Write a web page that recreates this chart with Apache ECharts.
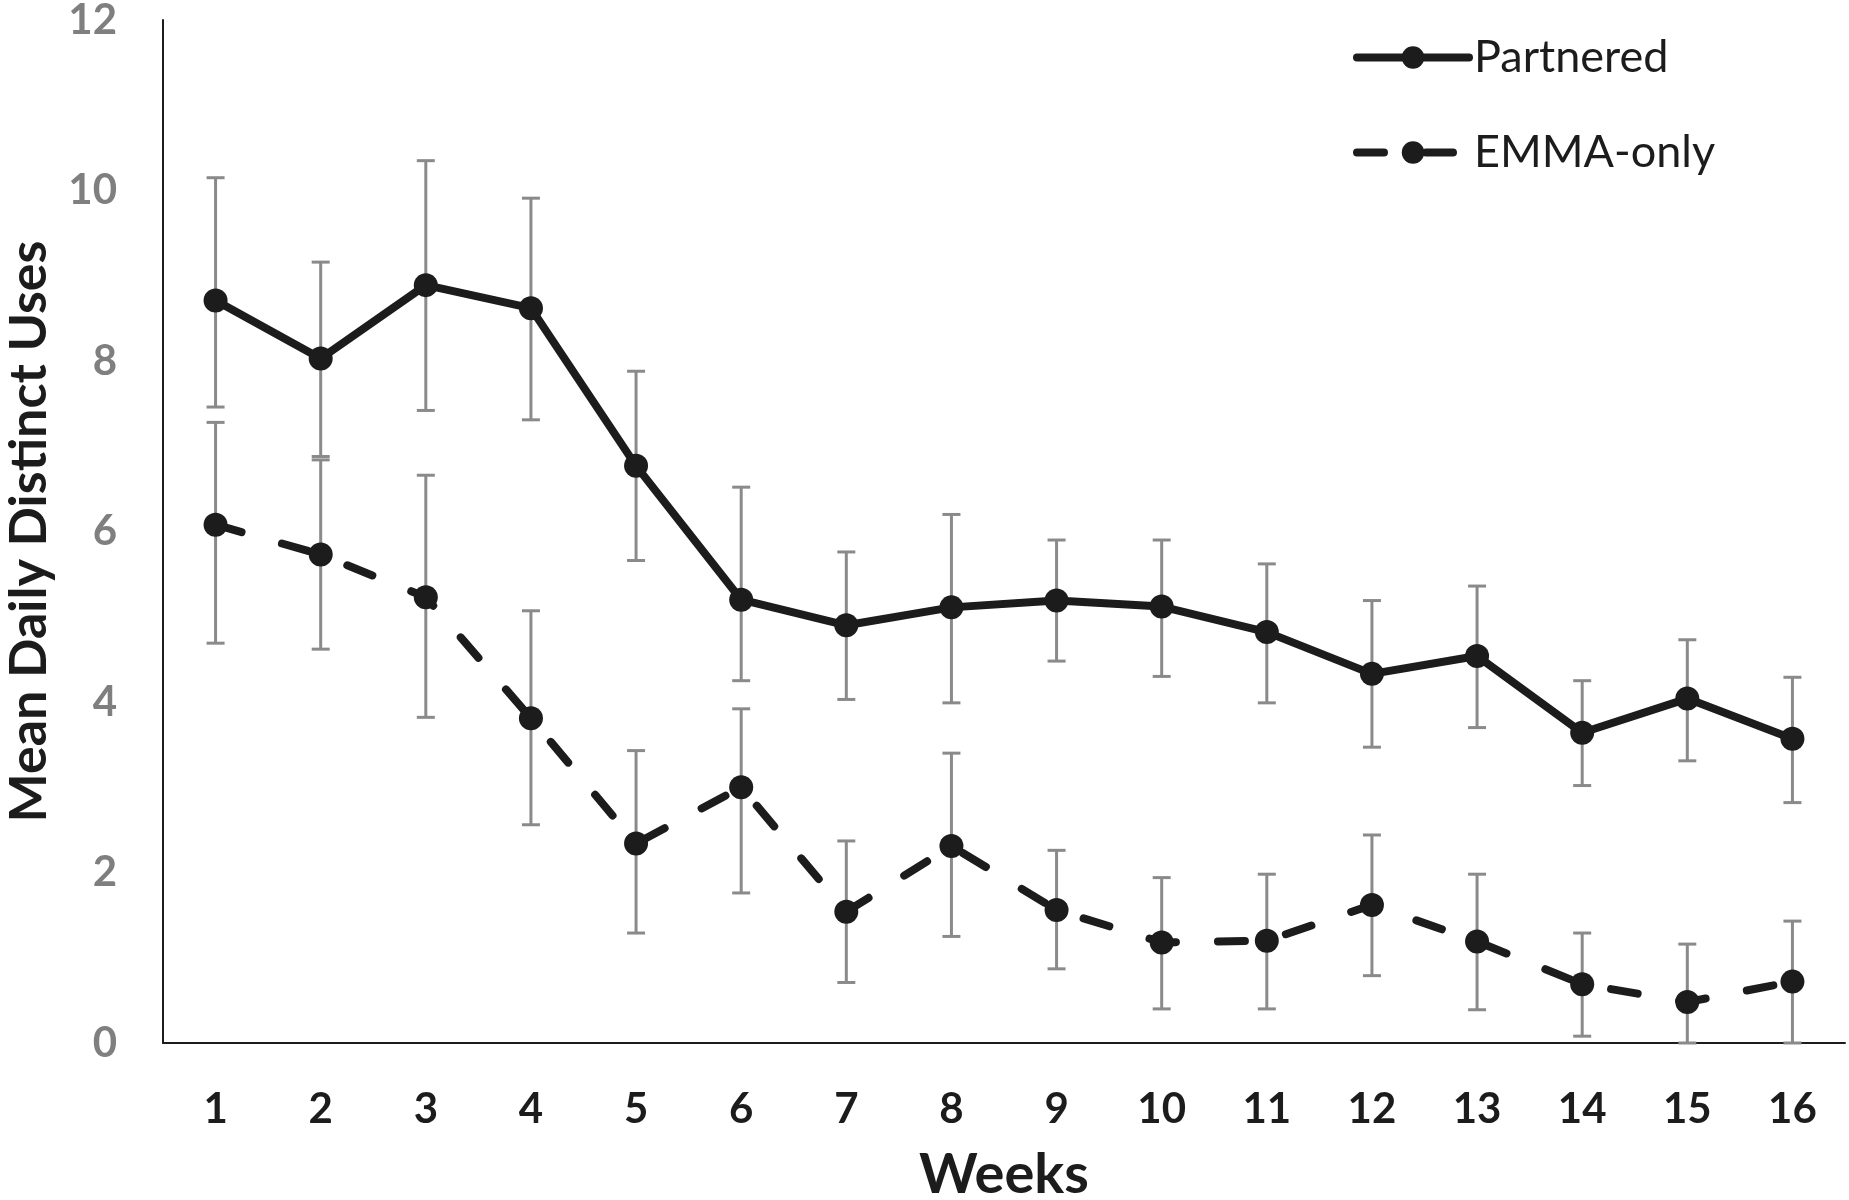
<!DOCTYPE html>
<html>
<head>
<meta charset="utf-8">
<script src="https://cdn.jsdelivr.net/npm/echarts@6/dist/echarts.min.js"></script>
<style>
    html, body { margin: 0; padding: 0; background: #fff; }
    #chart { width: 1849px; height: 1200px; }
</style>
</head>
<body>
<div id="chart"></div>
<script>
var weeks = ['1', '2', '3', '4', '5', '6', '7', '8', '9', '10', '11', '12', '13', '14', '15', '16'];
var yTicks = [0, 2, 4, 6, 8, 10, 12];

// Partnered: mean and error bar ends
var partnered = [8.71, 8.03, 8.89, 8.62, 6.77, 5.20, 4.90, 5.11, 5.19, 5.12, 4.82, 4.33, 4.54, 3.64, 4.04, 3.57];
var partneredHigh = [10.15, 9.16, 10.35, 9.91, 7.88, 6.52, 5.76, 6.20, 5.90, 5.90, 5.62, 5.19, 5.36, 4.25, 4.73, 4.29];
var partneredLow = [7.46, 6.88, 7.42, 7.31, 5.66, 4.25, 4.03, 3.99, 4.48, 4.30, 3.99, 3.47, 3.70, 3.02, 3.31, 2.82];

// EMMA-only: mean and error bar ends
var emma = [6.08, 5.73, 5.23, 3.81, 2.34, 3.00, 1.54, 2.31, 1.56, 1.18, 1.20, 1.62, 1.19, 0.69, 0.48, 0.72];
var emmaHigh = [7.28, 6.84, 6.66, 5.07, 3.43, 3.92, 2.37, 3.40, 2.26, 1.94, 1.98, 2.44, 1.98, 1.29, 1.16, 1.43];
var emmaLow = [4.69, 4.62, 3.82, 2.56, 1.29, 1.76, 0.71, 1.25, 0.87, 0.40, 0.40, 0.79, 0.39, 0.08, 0.00, 0.00];

var FONT = 'Lato';
var INK = '#1c1c1c';

var myChart = echarts.init(document.getElementById('chart'));

function errData(low, high) {
    var res = [];
    for (var i = 0; i < low.length; i++) {
        res.push([i, low[i], high[i]]);
    }
    return res;
}

// error bars: vertical stem plus two caps
function renderErr(params, api) {
    var x = api.value(0);
    var lo = api.coord([x, api.value(1)]);
    var hi = api.coord([x, api.value(2)]);
    var half = 9;
    var style = { stroke: '#8a8a8a', lineWidth: 3 };
    return {
        type: 'group',
        children: [
            { type: 'line', shape: { x1: lo[0], y1: lo[1], x2: hi[0], y2: hi[1] }, style: style },
            { type: 'line', shape: { x1: hi[0] - half, y1: hi[1], x2: hi[0] + half, y2: hi[1] }, style: style },
            { type: 'line', shape: { x1: lo[0] - half, y1: lo[1], x2: lo[0] + half, y2: lo[1] }, style: style }
        ]
    };
}

var option = {
    backgroundColor: '#fff',
    animation: false,
    grid: {
        left: 163,
        right: 4,
        top: 20,
        bottom: 157,
        outerBoundsMode: 'none',
        containLabel: false
    },
    legend: {
        data: ['Partnered', 'EMMA-only'],
        orient: 'vertical',
        left: 1348,
        top: 30,
        itemWidth: 112,
        itemHeight: 28,
        itemGap: 50,
        lineStyle: { width: 8, cap: 'round' },
        textStyle: {
            fontFamily: FONT,
            fontSize: 45,
            color: INK
        }
    },
    xAxis: {
        type: 'category',
        data: weeks,
        boundaryGap: true,
        name: 'Weeks',
        nameLocation: 'middle',
        nameGap: 104,
        nameTextStyle: {
            fontFamily: FONT,
            fontSize: 56,
            fontWeight: 'bold',
            color: INK
        },
        axisLine: { lineStyle: { color: INK, width: 2 } },
        axisTick: { show: false },
        axisLabel: {
            margin: 45,
            fontFamily: FONT,
            fontSize: 42,
            fontWeight: 'bold',
            color: INK
        },
        splitLine: { show: false }
    },
    yAxis: {
        type: 'value',
        min: 0,
        max: 12,
        interval: 2,
        name: 'Mean Daily Distinct Uses',
        nameLocation: 'middle',
        nameRotate: 90,
        nameGap: 108,
        nameTextStyle: {
            fontFamily: FONT,
            fontSize: 52,
            fontWeight: 'bold',
            color: INK
        },
        axisLine: { show: true, lineStyle: { color: INK, width: 2 } },
        axisTick: { show: false },
        axisLabel: {
            margin: 46,
            fontFamily: FONT,
            fontSize: 42,
            fontWeight: 'bold',
            color: '#7f7f7f',
            formatter: function (v) {
                return yTicks.indexOf(v) >= 0 ? String(v) : '';
            }
        },
        splitLine: { show: false }
    },
    series: [
        {
            name: 'Partnered err',
            type: 'custom',
            renderItem: renderErr,
            data: errData(partneredLow, partneredHigh),
            z: 1,
            silent: true
        },
        {
            name: 'EMMA-only err',
            type: 'custom',
            renderItem: renderErr,
            data: errData(emmaLow, emmaHigh),
            z: 1,
            silent: true
        },
        {
            name: 'Partnered',
            type: 'line',
            data: partnered,
            symbol: 'circle',
            symbolSize: 24,
            itemStyle: { color: INK },
            lineStyle: { color: INK, width: 8, cap: 'round', join: 'round' },
            z: 3
        },
        {
            name: 'EMMA-only',
            type: 'line',
            data: emma,
            symbol: 'circle',
            symbolSize: 24,
            itemStyle: { color: INK },
            lineStyle: { color: INK, width: 8, type: [27, 42], cap: 'round', join: 'round' },
            z: 3
        }
    ]
};

myChart.setOption(option);

window.addEventListener('resize', function () {
    myChart.resize();
});
</script>
</body>
</html>
